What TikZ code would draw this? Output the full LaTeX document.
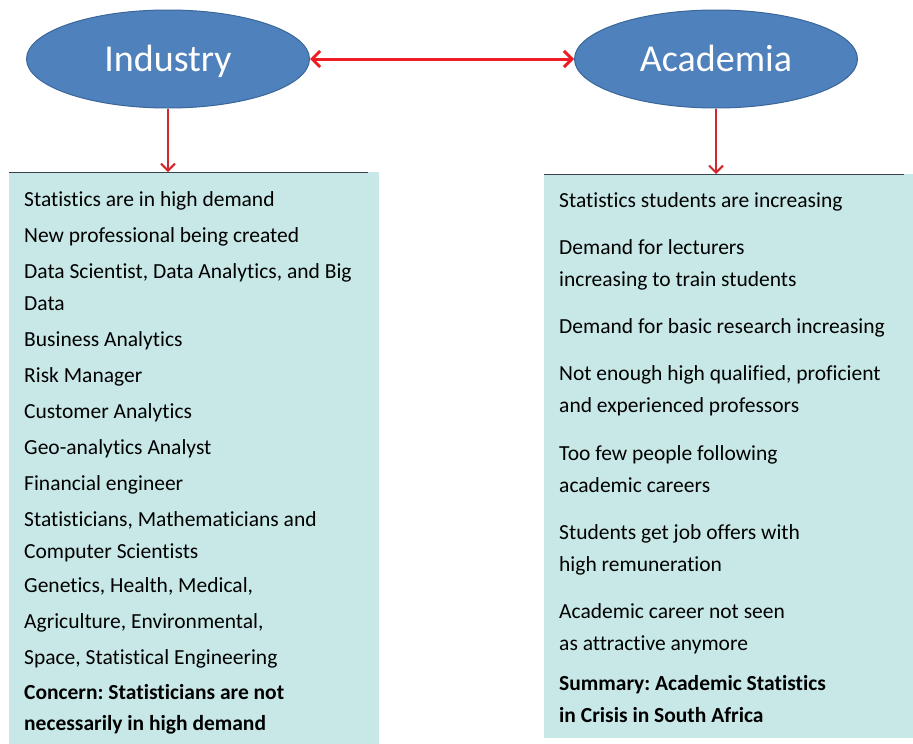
\documentclass[tikz,border=0pt]{standalone}
\usepackage{fontspec}
\setmainfont{Carlito}[Ligatures=NoCommon]
\usetikzlibrary{shapes.geometric,arrows.meta}
\definecolor{ovalblue}{HTML}{4F81BD}
\definecolor{ovaledge}{HTML}{3A669A}
\definecolor{panelfill}{HTML}{C8E8E8}
\definecolor{panelrule}{HTML}{3C4150}
\definecolor{linkred}{HTML}{EE1C24}
\definecolor{dropred}{HTML}{D0262D}
\tikzset{
  oval/.style={ellipse, fill=ovalblue, draw=ovaledge, line width=1pt,
    minimum width=283pt, minimum height=98pt, inner sep=0pt,
    text height=24.5pt, text depth=0pt,
    text=white, font=\fontsize{38}{40}\selectfont},
  panel/.style={rectangle, fill=panelfill, draw=none, inner sep=0pt, anchor=north west},
  entry/.style={anchor=base west, inner sep=0pt, font=\fontsize{21.5}{24}\selectfont},
  keyentry/.style={entry, font=\fontsize{21.5}{24}\selectfont\bfseries},
  link/.style={draw=linkred, line width=3pt,
    {Straight Barb[length=8pt,width=16pt,line width=3pt]}-{Straight Barb[length=8pt,width=16pt,line width=3pt]}},
  drop/.style={draw=dropred, line width=2pt,
    -{Straight Barb[length=7pt,width=14pt,line width=2pt]}}
}
\frenchspacing
\begin{document}
\begin{tikzpicture}[x=1pt,y=-1pt]
  \useasboundingbox (0,0) rectangle (913,744);
  \fill[white] (0,0) rectangle (913,744);

  % panels
  \node[panel, minimum width=370pt, minimum height=572pt] (lbox) at (9,172) {};
  \node[panel, minimum width=369pt, minimum height=564pt] (rbox) at (544,174) {};
  \draw[panelrule, line width=1pt] (lbox.north west) -- ([xshift=-11pt]lbox.north east);
  \draw[panelrule, line width=1pt] (rbox.north west) -- ([xshift=-9pt]rbox.north east);

  % ovals
  \node[oval] (ind) at (168,59) {Industry};
  \node[oval] (aca) at (716,59) {Academia};

  % connectors
  \draw[link] (ind.east) -- (aca.west);
  \draw[drop] (ind.south) -- (ind.south |- lbox.north);
  \draw[drop] (aca.south) -- (aca.south |- rbox.north);

  % industry list
  \foreach \y/\t [count=\i] in {
    206/{Statistics are in high demand},
    242/{New professional being created},
    278/{Data Scientist, Data Analytics, and Big},
    310/{Data},
    346/{Business Analytics},
    382/{Risk Manager},
    418/{Customer Analytics},
    454/{Geo-analytics Analyst},
    490/{Financial engineer},
    526/{Statisticians, Mathematicians and},
    558/{Computer Scientists},
    592/{Genetics, Health, Medical,},
    628/{Agriculture, Environmental,},
    664/{Space, Statistical Engineering}}
    \node[entry] (l\i) at (24,\y) {\t};
  \node[keyentry] (lk1) at (24,699) {Concern: Statisticians are not};
  \node[keyentry] (lk2) at (24,730) {necessarily in high demand};

  % academia list
  \foreach \y/\t [count=\i] in {
    207/{Statistics students are increasing},
    254/{Demand for lecturers},
    286/{increasing to train students},
    333/{Demand for basic research increasing},
    380/{Not enough high qualified, proficient},
    412/{and experienced professors},
    460/{Too few people following},
    492/{academic careers},
    539/{Students get job offers with},
    571/{high remuneration},
    618/{Academic career not seen},
    650/{as attractive anymore}}
    \node[entry] (r\i) at (559,\y) {\t};
  \node[keyentry] (rk1) at (559,690) {Summary: Academic Statistics};
  \node[keyentry] (rk2) at (559,722) {in Crisis in South Africa};
\end{tikzpicture}
\end{document}
